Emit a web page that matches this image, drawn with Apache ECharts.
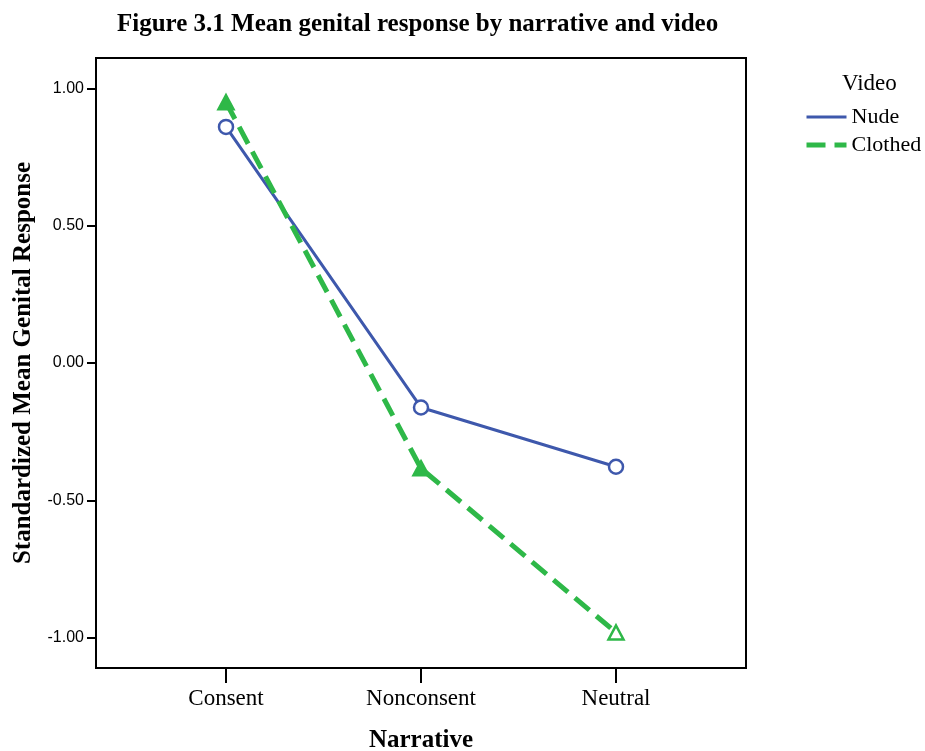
<!DOCTYPE html>
<html>
<head>
<meta charset="utf-8">
<script src="https://cdn.jsdelivr.net/npm/echarts@6/dist/echarts.min.js"></script>
<style>
  html, body { margin: 0; padding: 0; background: #fff; }
  #chart { width: 925px; height: 751px; }
</style>
</head>
<body>
<div id="chart"></div>
<script>
// narrative conditions on the x axis
const narratives = ['Consent', 'Nonconsent', 'Neutral']
// standardized mean genital response per video condition
const nude = [0.86, -0.162, -0.378]
const clothed = [0.95, -0.384, -0.982]
const yTicks = [-1, -0.5, 0, 0.5, 1]

const blue = '#3E58AC'
const green = '#2EB848'
const serif = '"Liberation Serif", "Times New Roman", serif'

const chart = echarts.init(document.getElementById('chart'))

chart.setOption({
  backgroundColor: '#fff',
  animation: false,
  title: [
    {
      text: 'Figure 3.1 Mean genital response by narrative and video',
      left: 112,
      top: 7,
      textStyle: { fontFamily: serif, fontSize: 25, fontWeight: 'bold', color: '#000' }
    },
    {
      text: 'Video',
      left: 837,
      top: 67,
      textStyle: { fontFamily: serif, fontSize: 23, fontWeight: 'normal', color: '#000' }
    }
  ],
  legend: {
    orient: 'vertical',
    left: 804,
    top: 106,
    padding: 0,
    itemWidth: 40,
    itemHeight: 14,
    itemGap: 6,
    itemStyle: { opacity: 0 },
    textStyle: { fontFamily: serif, fontSize: 22, color: '#000' },
    data: [
      { name: 'Nude', lineStyle: { width: 3 } },
      { name: 'Clothed', lineStyle: { width: 5 } }
    ]
  },
  grid: {
    left: 96,
    right: 179,
    top: 58,
    bottom: 83,
    outerBoundsMode: 'none',
    show: true,
    borderColor: '#000',
    borderWidth: 2
  },
  xAxis: {
    type: 'value',
    min: -2 / 3,
    max: 8 / 3,
    name: 'Narrative',
    nameLocation: 'middle',
    nameGap: 60,
    nameTextStyle: { fontFamily: serif, fontSize: 25, fontWeight: 'bold', color: '#000' },
    splitLine: { show: false },
    axisLine: { onZero: false, lineStyle: { color: '#000', width: 2 } },
    axisTick: {
      customValues: [0, 1, 2],
      length: 15,
      lineStyle: { color: '#000', width: 2 }
    },
    axisLabel: {
      customValues: [0, 1, 2],
      margin: 19,
      fontFamily: serif,
      fontSize: 23,
      color: '#000',
      formatter: v => narratives[Math.round(v)]
    }
  },
  yAxis: {
    type: 'value',
    min: -10 / 9,
    max: 10 / 9,
    name: 'Standardized Mean Genital Response',
    nameLocation: 'middle',
    nameGap: 60,
    nameTextStyle: { fontFamily: serif, fontSize: 25, fontWeight: 'bold', color: '#000' },
    splitLine: { show: false },
    axisLine: { onZero: false, lineStyle: { color: '#000', width: 2 } },
    axisTick: {
      customValues: yTicks,
      length: 9,
      lineStyle: { color: '#000', width: 2 }
    },
    axisLabel: {
      customValues: yTicks,
      margin: 12,
      fontFamily: '"Liberation Sans", Arial, sans-serif',
      fontSize: 16,
      color: '#000',
      formatter: v => v.toFixed(2)
    }
  },
  series: [
    {
      name: 'Nude',
      type: 'line',
      data: nude.map((v, i) => [i, v]),
      symbol: 'circle',
      symbolSize: 14,
      color: blue,
      lineStyle: { color: blue, width: 3 },
      itemStyle: { color: '#fff', borderColor: blue, borderWidth: 2.5 }
    },
    {
      name: 'Clothed',
      type: 'line',
      data: clothed.map((v, i) => ({
        value: [i, v],
        itemStyle: { color: i < 2 ? green : '#fff' }
      })),
      symbol: 'triangle',
      symbolSize: [15, 14],
      color: green,
      lineStyle: { color: green, width: 5, type: [19, 9] },
      itemStyle: { borderColor: green, borderWidth: 2.5 }
    }
  ]
})
</script>
</body>
</html>
